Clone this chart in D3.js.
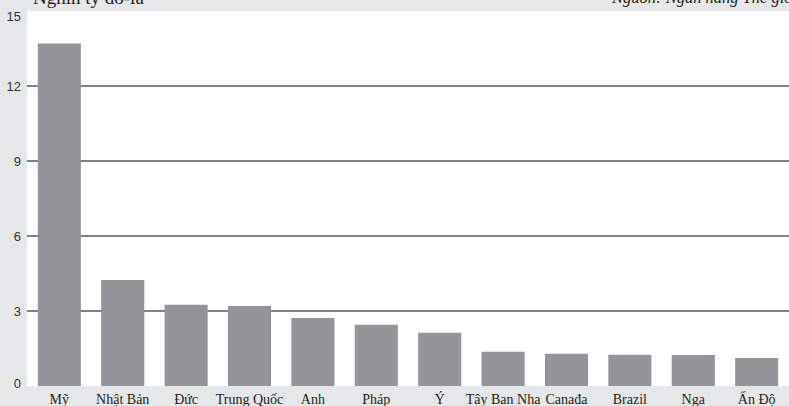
<!DOCTYPE html>
<html>
<head>
<meta charset="utf-8">
<script src="https://cdn.jsdelivr.net/npm/d3@7"></script>
<style>
  html, body { margin: 0; padding: 0; background: #e6e7e8; overflow: hidden; }
  svg { display: block; }
</style>
</head>
<body>
<svg id="chart" width="789" height="406"></svg>
<script>
// GDP by country, trillions of US dollars
const countries = ["Mỹ", "Nhật Bản", "Đức", "Trung Quốc", "Anh", "Pháp", "Ý", "Tây Ban Nha", "Canađa", "Brazil", "Nga", "Ấn Độ"];
const gdp = [13.7, 4.24, 3.25, 3.2, 2.72, 2.45, 2.13, 1.37, 1.29, 1.25, 1.24, 1.12];
const yTicks = [0, 3, 6, 9, 12, 15];
const titleText = "Nghìn tỷ đô-la";
const sourceText = "Nguồn: Ngân hàng Thế giới";

const W = 789, H = 406;
const plot = { left: 27, right: 789, top: 11, bottom: 386 };

const svg = d3.select("#chart");

svg.append("rect")
  .attr("width", W).attr("height", H)
  .attr("fill", "#e6e7e8");

svg.append("rect")
  .attr("x", plot.left).attr("y", plot.top)
  .attr("width", plot.right - plot.left)
  .attr("height", plot.bottom - plot.top)
  .attr("fill", "#ffffff");

const x = d3.scaleBand()
  .domain(countries)
  .range([plot.left, plot.right])
  .paddingInner(0.32)
  .paddingOuter(0.17);

const y = d3.scaleLinear()
  .domain([0, 15])
  .range([plot.bottom, plot.top]);

// horizontal gridlines (bars are drawn over them)
svg.append("g")
  .selectAll("line")
  .data(yTicks.filter(t => t > 0 && t < 15))
  .join("line")
  .attr("x1", plot.left).attr("x2", plot.right)
  .attr("y1", d => y(d)).attr("y2", d => y(d))
  .attr("stroke", "#58595b")
  .attr("stroke-width", 1.5);

// y tick labels in the grey margin
svg.append("g")
  .selectAll("text")
  .data(yTicks)
  .join("text")
  .attr("x", 21)
  .attr("y", d => Math.min(Math.max(y(d), 16), 383))
  .attr("dy", "0.35em")
  .attr("text-anchor", "end")
  .attr("font-family", "'Liberation Sans', Arial, sans-serif")
  .attr("font-size", 13)
  .attr("fill", "#333")
  .text(d => d);

// bars
svg.append("g")
  .selectAll("rect")
  .data(countries.map((c, i) => ({ c, v: gdp[i] })))
  .join("rect")
  .attr("x", d => x(d.c))
  .attr("y", d => y(d.v))
  .attr("width", x.bandwidth())
  .attr("height", d => y(0) - y(d.v))
  .attr("fill", "#939598");

// country labels
svg.append("g")
  .selectAll("text")
  .data(countries)
  .join("text")
  .attr("x", d => x(d) + x.bandwidth() / 2)
  .attr("y", 404)
  .attr("text-anchor", "middle")
  .attr("font-family", "'Liberation Serif', 'Times New Roman', serif")
  .attr("font-size", 14)
  .attr("fill", "#231f20")
  .text(d => d);

// unit title (top left) and source (top right)
svg.append("text")
  .attr("x", 33).attr("y", 4)
  .attr("font-family", "'Liberation Serif', 'Times New Roman', serif")
  .attr("font-size", 19)
  .attr("fill", "#231f20")
  .text(titleText);

svg.append("text")
  .attr("x", 612).attr("y", 3)
  .attr("font-family", "'Liberation Serif', 'Times New Roman', serif")
  .attr("font-style", "italic")
  .attr("font-size", 16.5)
  .attr("fill", "#231f20")
  .text(sourceText);
</script>
</body>
</html>
